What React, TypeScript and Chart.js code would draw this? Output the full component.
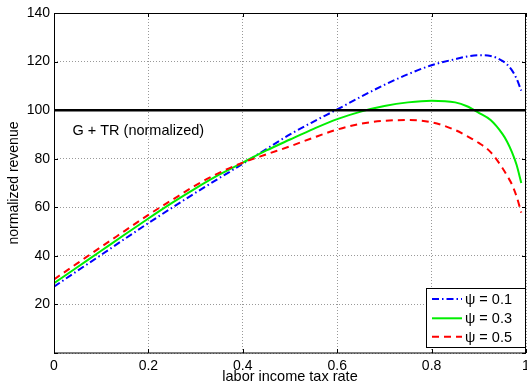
import { useEffect, useRef } from "react";
import { Chart, registerables } from "chart.js";

Chart.register(...registerables);

const FONT = "'Liberation Sans', Arial, Helvetica, sans-serif";

// labor income tax rate
const taxRates = [0, 0.05, 0.1, 0.15, 0.2, 0.25, 0.3, 0.35, 0.4, 0.45, 0.5, 0.55, 0.6, 0.65, 0.7, 0.75, 0.8, 0.85, 0.875, 0.9, 0.925, 0.95, 0.96, 0.97, 0.98, 0.99];
// normalized revenue, psi = 0.1
const revenuePsi01 = [27.3, 33.9, 40.4, 47.0, 53.5, 59.8, 66.0, 72.0, 77.9, 84.0, 90.0, 95.3, 100.3, 105.5, 110.4, 114.8, 118.5, 121.0, 122.1, 122.6, 122.3, 120.3, 118.8, 116.5, 113.0, 108.0];
// normalized revenue, psi = 0.3
const revenuePsi03 = [28.7, 35.4, 42.1, 48.8, 55.4, 61.8, 67.8, 73.4, 78.4, 83.4, 87.9, 92.3, 96.3, 99.4, 101.7, 103.2, 103.9, 103.2, 101.6, 98.9, 95.9, 90.2, 87.0, 82.8, 77.5, 70.0];
// normalized revenue, psi = 0.5
const revenuePsi05 = [30.3, 37.0, 43.7, 50.3, 56.9, 63.0, 69.0, 74.2, 78.4, 81.8, 85.1, 88.7, 92.0, 94.4, 95.6, 95.9, 95.0, 91.8, 89.3, 86.5, 82.7, 76.2, 73.0, 69.5, 64.5, 57.8];

const seriesLabels = ["\u03c8 = 0.1", "\u03c8 = 0.3", "\u03c8 = 0.5"];
const referenceLevel = 100;
const referenceLabel = "G + TR (normalized)";
const xTickValues = [0, 0.2, 0.4, 0.6, 0.8, 1];
const yTickValues = [0, 20, 40, 60, 80, 100, 120, 140];

export default function App() {
  const ref = useRef<HTMLCanvasElement>(null);

  useEffect(() => {
    document.body.style.margin = "0";
    const canvas = ref.current!;
    const pts = (ys: number[]) => taxRates.map((x, i) => ({ x, y: ys[i] }));

    const styles = [
      { color: "#0000ff", dash: [7, 3, 1.5, 3] },
      { color: "#00ee00", dash: [] as number[] },
      { color: "#ff0000", dash: [7, 5] },
    ];

    const framePlugin = {
      id: "frame",
      afterDraw(chart: any) {
        const { ctx, chartArea: a, scales } = chart;
        ctx.save();
        ctx.strokeStyle = "#000";
        ctx.lineWidth = 1;
        ctx.setLineDash([]);
        // inner ticks
        ctx.beginPath();
        for (const v of xTickValues) {
          const px = Math.round(scales.x.getPixelForValue(v)) + 0.5;
          ctx.moveTo(px, a.bottom);
          ctx.lineTo(px, a.bottom - 4);
          ctx.moveTo(px, a.top);
          ctx.lineTo(px, a.top + 4);
        }
        for (const v of yTickValues) {
          const py = Math.round(scales.y.getPixelForValue(v)) + 0.5;
          ctx.moveTo(a.left, py);
          ctx.lineTo(a.left + 4, py);
          ctx.moveTo(a.right, py);
          ctx.lineTo(a.right - 4, py);
        }
        ctx.stroke();
        // frame
        ctx.strokeRect(a.left + 0.5, a.top + 0.5, a.right - a.left - 1, a.bottom - a.top - 0.5);

        // annotation
        ctx.fillStyle = "#000";
        ctx.font = `14.5px ${FONT}`;
        ctx.textAlign = "left";
        ctx.textBaseline = "middle";
        ctx.fillText(referenceLabel, scales.x.getPixelForValue(0.039), scales.y.getPixelForValue(91.3));

        // legend
        const bx = a.right - 100;
        const by = a.bottom - 65;
        ctx.fillStyle = "#fff";
        ctx.fillRect(bx, by, 100, 59);
        ctx.strokeStyle = "#000";
        ctx.strokeRect(bx + 0.5, by + 0.5, 99, 59);
        const rows = [11, 30.3, 48.7];
        rows.forEach((dy, i) => {
          const y = by + dy;
          ctx.save();
          ctx.strokeStyle = styles[i].color;
          ctx.lineWidth = 2;
          ctx.setLineDash(styles[i].dash);
          ctx.beginPath();
          ctx.moveTo(bx + 6, y);
          ctx.lineTo(bx + 36, y);
          ctx.stroke();
          ctx.restore();
          ctx.fillStyle = "#000";
          ctx.font = `14.5px ${FONT}`;
          ctx.textAlign = "left";
          ctx.textBaseline = "middle";
          ctx.fillText(seriesLabels[i], bx + 39, y + 1);
        });
        ctx.restore();
      },
    };

    const chart = new Chart(canvas, {
      type: "line",
      data: {
        datasets: [
          {
            label: referenceLabel,
            data: [{ x: 0, y: referenceLevel }, { x: 1, y: referenceLevel }],
            borderColor: "#000",
            borderWidth: 2.5,
            pointRadius: 0,
            order: 0,
          },
          {
            label: seriesLabels[2],
            data: pts(revenuePsi05),
            borderColor: styles[2].color,
            borderDash: styles[2].dash,
            borderWidth: 2,
            pointRadius: 0,
            cubicInterpolationMode: "monotone",
            order: 1,
          },
          {
            label: seriesLabels[1],
            data: pts(revenuePsi03),
            borderColor: styles[1].color,
            borderWidth: 2,
            pointRadius: 0,
            cubicInterpolationMode: "monotone",
            order: 2,
          },
          {
            label: seriesLabels[0],
            data: pts(revenuePsi01),
            borderColor: styles[0].color,
            borderDash: styles[0].dash,
            borderWidth: 2,
            pointRadius: 0,
            cubicInterpolationMode: "monotone",
            order: 3,
          },
        ],
      },
      options: {
        responsive: false,
        animation: false,
        devicePixelRatio: 1,
        layout: { padding: { left: 0, right: 1, top: 13, bottom: 0 } },
        plugins: { legend: { display: false }, tooltip: { enabled: false } },
        elements: { line: { fill: false } },
        scales: {
          x: {
            type: "linear",
            min: 0,
            max: 1,
            afterBuildTicks: (s: any) => {
              s.ticks = xTickValues.map((v) => ({ value: v }));
            },
            ticks: {
              autoSkip: false,
              maxRotation: 0,
              padding: 5,
              color: "#000",
              font: { family: FONT, size: 14 },
              callback: (v: any) => (v === 0 ? "0" : v === 1 ? "1" : Number(v).toFixed(1)),
            },
            grid: { color: "#999", lineWidth: 1, drawTicks: false },
            border: { display: false, dash: [1, 2] },
            title: {
              display: true,
              text: "labor income tax rate",
              color: "#000",
              font: { family: FONT, size: 14.5, lineHeight: 1 },
              padding: { top: 0, bottom: 0 },
            },
            afterFit: (s: any) => {
              s.height = 31;
              s.paddingLeft = 0;
              s.paddingRight = 0;
            },
          },
          y: {
            type: "linear",
            min: 0,
            max: 140,
            afterBuildTicks: (s: any) => {
              s.ticks = yTickValues.map((v) => ({ value: v }));
            },
            ticks: {
              padding: 4,
              color: "#000",
              font: { family: FONT, size: 14 },
              callback: (v: any) => (v === 0 ? "" : String(v)),
            },
            grid: { color: "#999", lineWidth: 1, drawTicks: false },
            border: { display: false, dash: [1, 2] },
            title: {
              display: true,
              text: "normalized revenue",
              color: "#000",
              font: { family: FONT, size: 14, lineHeight: 1.2 },
              padding: { top: 6, bottom: 0 },
            },
            afterFit: (s: any) => {
              s.width = 54;
            },
          },
        },
      },
      plugins: [framePlugin],
    });
    return () => chart.destroy();
  }, []);

  return (
    <div style={{ width: 527, height: 384 }}>
      <canvas ref={ref} width={527} height={384} style={{ display: "block", width: 527, height: 384 }} />
    </div>
  );
}
